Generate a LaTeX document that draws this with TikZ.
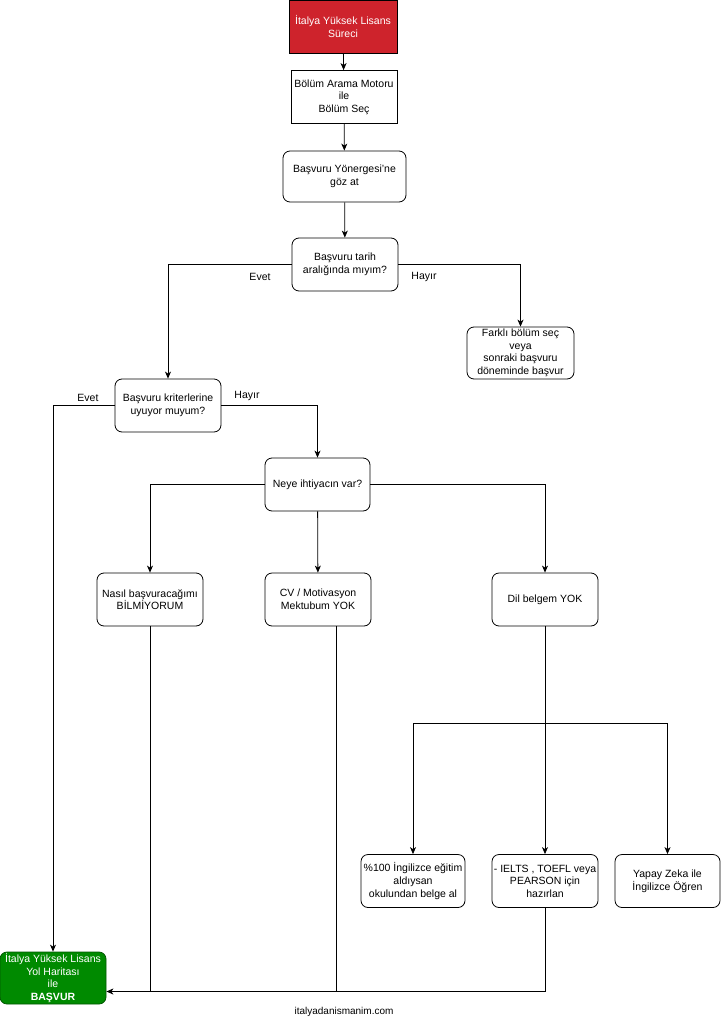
\documentclass[tikz,border=0pt]{standalone}
\usepackage{fontspec}
\setmainfont{Liberation Sans}
\usetikzlibrary{arrows.meta}

\definecolor{startred}{RGB}{206,35,44}
\definecolor{endgreen}{RGB}{0,138,0}
\definecolor{endgreenline}{RGB}{0,87,0}

\begin{document}
\begin{tikzpicture}[x=1pt, y=-1pt,
    box/.style={draw, line width=0.8pt, align=center, inner sep=1pt,
      minimum width=106, minimum height=53,
      font=\fontsize{10.5}{12.6}\selectfont},
    rbox/.style={box, rounded corners=7},
    lbl/.style={font=\fontsize{10.5}{12.6}\selectfont},
    line/.style={line width=0.8pt},
    arr/.style={line, -{Stealth[length=7pt, width=6pt, inset=2pt]}}]
    \useasboundingbox (0,0) rectangle (722,1024);

    % Top of the chain
    \node[box, fill=startred, text=white, minimum width=108] (start) at (343,26.5)
      {İtalya Yüksek Lisans\\Süreci};
    \node[box] (motor) at (344,97) {Bölüm Arama Motoru\\ile\\Bölüm Seç};
    \node[rbox, minimum width=123, minimum height=51] (guide) at (344.5,176.5)
      {Başvuru Yönergesi'ne\\göz at};
    \node[rbox] (date) at (345,264.5) {Başvuru tarih\\aralığında mıyım?};
    \node[rbox, minimum width=107, minimum height=52] (other) at (520.5,353)
      {Farklı bölüm seç\\veya\\sonraki başvuru\\döneminde başvur};

    % Criteria and needs
    \node[rbox] (crit) at (168,405.5) {Başvuru kriterlerine\\uyuyor muyum?};
    \node[rbox, minimum width=105] (need) at (317.5,484.5) {Neye ihtiyacın var?};
    \node[rbox] (how) at (150,599.5) {Nasıl başvuracağımı\\BİLMİYORUM};
    \node[rbox] (cv) at (318,599.5) {CV / Motivasyon\\Mektubum YOK};
    \node[rbox] (lang) at (545,599.5) {Dil belgem YOK};

    % Language options
    \node[rbox, minimum width=104] (school) at (413,881)
      {\%100 İngilizce eğitim\\aldıysan\\okulundan belge al};
    \node[rbox] (exam) at (545,881) {- IELTS , TOEFL veya\\PEARSON için\\hazırlan};
    \node[rbox, minimum width=105] (ai) at (667.5,881) {Yapay Zeka ile\\İngilizce Öğren};

    % Goal
    \node[box, rounded corners=7, fill=endgreen, draw=endgreenline, text=white,
      minimum height=52] (apply) at (53,978)
      {İtalya Yüksek Lisans\\Yol Haritası\\ile\\\textbf{BAŞVUR}};
    \node[lbl, font=\fontsize{10}{12}\selectfont] (site) at (344,1012) {italyadanismanim.com};

    \coordinate (split) at (545,723);
    \coordinate (join) at (545,991.5);

    % Connectors
    \draw[arr] (start) -- (motor);
    \draw[arr] (motor) -- (guide);
    \draw[arr] (guide) -- (date);
    \draw[arr] (date.west) -| (crit.north);
    \draw[arr] (date.east) -| (other.north);
    \draw[arr] (crit.west) -| (apply.north);
    \draw[arr] (crit.east) -| (need.north);
    \draw[arr] (need.west) -| (how.north);
    \draw[arr] (need) -- (cv);
    \draw[arr] (need.east) -| (lang.north);
    \draw[line] (lang.south) -- (split);
    \draw[arr] (split) -| (school.north);
    \draw[arr] (split) -- (exam.north);
    \draw[arr] (split) -| (ai.north);
    \draw[line] (how.south) -- (how.south |- join);
    \draw[line] ([xshift=18]cv.south) -- ([xshift=18]cv.south |- join);
    \draw[arr] (exam.south) -- (join) -- (join -| apply.east);

    % Yes / no labels
    \node[lbl] (dateyes) at (260,277) {Evet};
    \node[lbl] (dateno) at (424,277) {Hayır};
    \node[lbl] (crityes) at (88,398) {Evet};
    \node[lbl] (critno) at (247,396) {Hayır};
  \end{tikzpicture}
\end{document}
